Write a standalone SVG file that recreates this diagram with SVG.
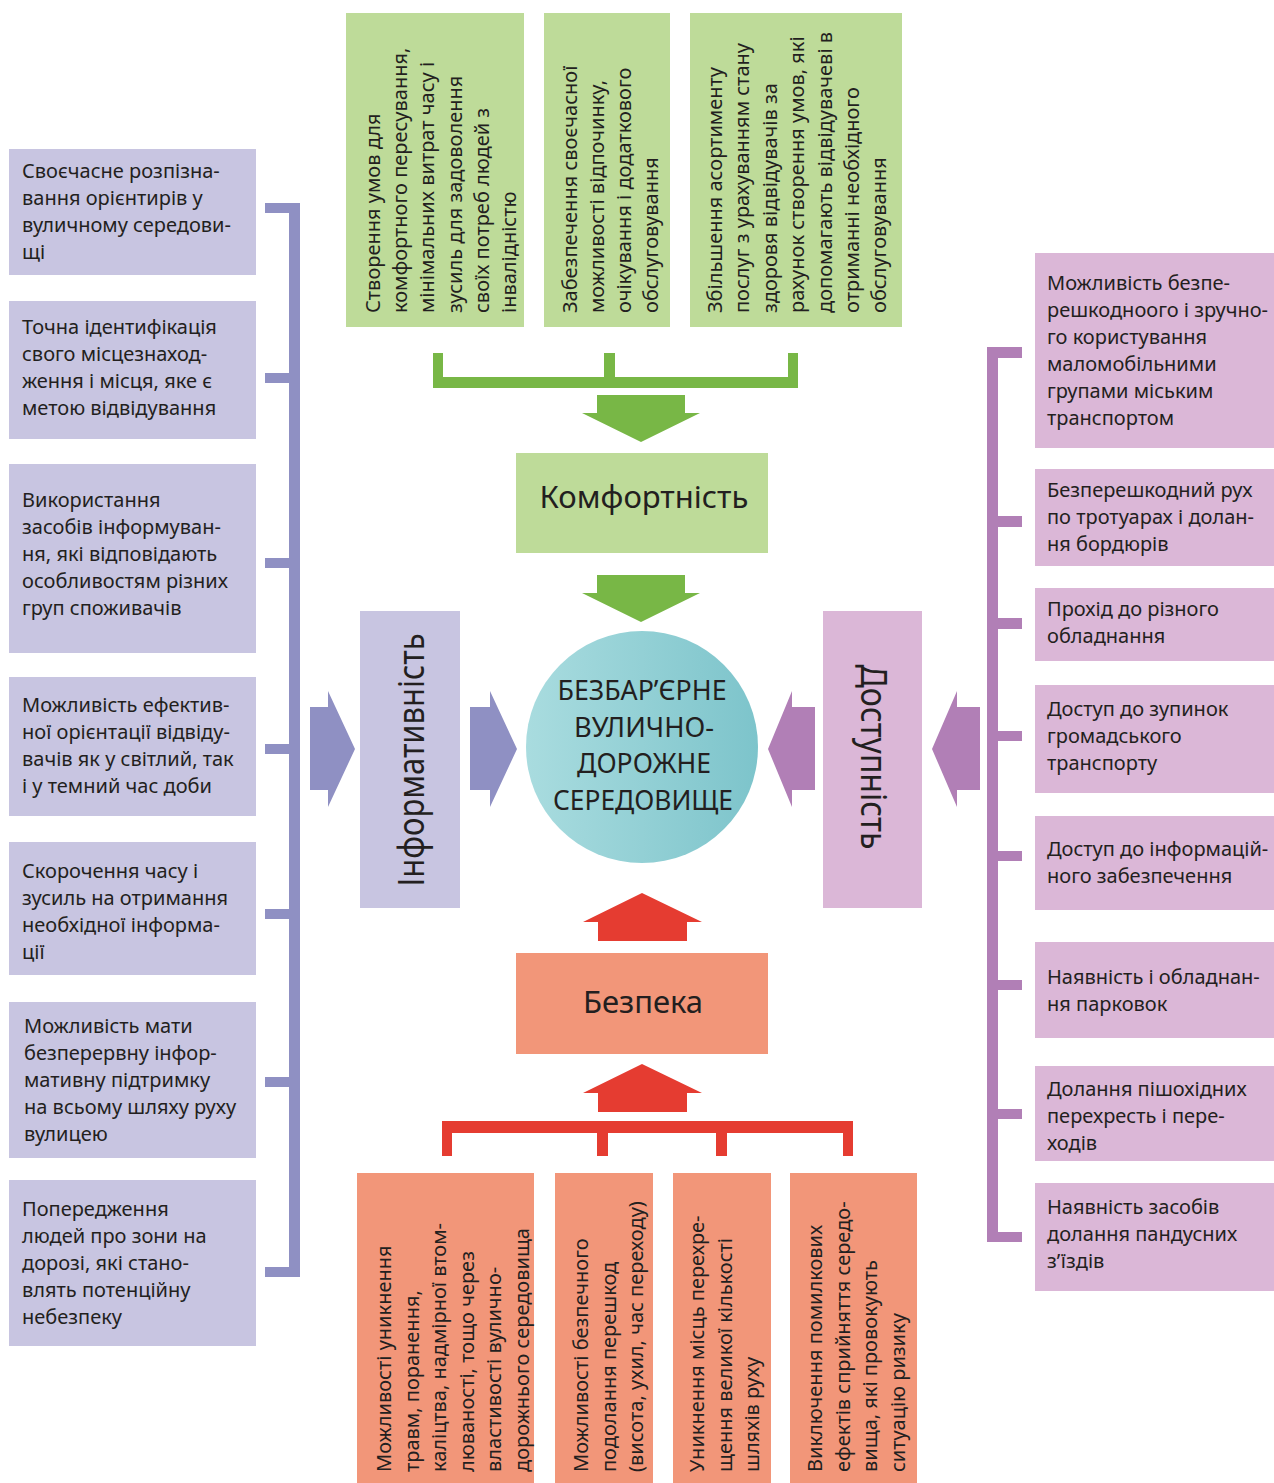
<svg xmlns="http://www.w3.org/2000/svg" width="1274" height="1483" viewBox="0 0 1274 1483">
<defs>
<style>
text { font-family: "Noto Sans", "Open Sans", "DejaVu Sans", sans-serif; fill: #231f20; }
.t { font-size: 20px; }
.big { font-size: 31px; }
.huge { font-size: 36px; }
.circ { font-size: 27px; }
.gbox { fill: #bedb99; }
.gdark { fill: #78b746; }
.rbox { fill: #f29679; }
.rdark { fill: #e53c31; }
.bbox { fill: #c8c5e1; }
.bdark { fill: #8f90c3; }
.pbox { fill: #dbb7d7; }
.pdark { fill: #b17fb6; }
</style>
<linearGradient id="circGrad" x1="0" y1="0" x2="1" y2="0">
<stop offset="0" stop-color="#a9dcdf"/>
<stop offset="1" stop-color="#7dc4cb"/>
</linearGradient>
</defs>
<rect x="0" y="0" width="1274" height="1483" fill="#ffffff"/>

<!-- connectors -->
<g id="connectors">
  <!-- green bracket -->
  <rect class="gdark" x="433" y="353" width="10" height="35"/>
  <rect class="gdark" x="604" y="353" width="11" height="35"/>
  <rect class="gdark" x="788" y="353" width="10" height="35"/>
  <rect class="gdark" x="433" y="377" width="365" height="11"/>
  <polygon class="gdark" points="597,395 685,395 685,413 700,413 641,442 582,413 597,413"/>
  <polygon class="gdark" points="597,575 685,575 685,593 700,593 641,622 582,593 597,593"/>
  <!-- red bracket -->
  <rect class="rdark" x="442" y="1121" width="411" height="12"/>
  <rect class="rdark" x="442" y="1121" width="10" height="35"/>
  <rect class="rdark" x="597" y="1121" width="11" height="35"/>
  <rect class="rdark" x="716" y="1121" width="11" height="35"/>
  <rect class="rdark" x="843" y="1121" width="10" height="35"/>
  <polygon class="rdark" points="642,1064 702,1093 687,1093 687,1112 598,1112 598,1093 583,1093"/>
  <polygon class="rdark" points="642,893 702,922 687,922 687,941 598,941 598,922 583,922"/>
  <!-- blue bracket -->
  <rect class="bdark" x="289" y="203" width="11" height="1074"/>
  <rect class="bdark" x="265" y="203" width="35" height="10"/>
  <rect class="bdark" x="265" y="373" width="35" height="10"/>
  <rect class="bdark" x="265" y="558" width="35" height="10"/>
  <rect class="bdark" x="265" y="744" width="35" height="10"/>
  <rect class="bdark" x="265" y="909" width="35" height="10"/>
  <rect class="bdark" x="265" y="1077" width="35" height="10"/>
  <rect class="bdark" x="265" y="1267" width="35" height="10"/>
  <polygon class="bdark" points="310,707 328,707 328,691 355,749 328,807 328,790 310,790"/>
  <polygon class="bdark" points="470,707 490,707 490,691 517,749 490,807 490,790 470,790"/>
  <!-- purple bracket -->
  <rect class="pdark" x="987" y="347" width="11" height="895"/>
  <rect class="pdark" x="987" y="347" width="35" height="11"/>
  <rect class="pdark" x="987" y="516" width="35" height="11"/>
  <rect class="pdark" x="987" y="618" width="35" height="11"/>
  <rect class="pdark" x="987" y="731" width="35" height="10"/>
  <rect class="pdark" x="987" y="851" width="35" height="10"/>
  <rect class="pdark" x="987" y="980" width="35" height="10"/>
  <rect class="pdark" x="987" y="1109" width="35" height="10"/>
  <rect class="pdark" x="987" y="1232" width="35" height="10"/>
  <polygon class="pdark" points="768,749 792,691 792,707 815,707 815,790 792,790 792,807"/>
  <polygon class="pdark" points="932,749 957,691 957,707 980,707 980,790 957,790 957,807"/>
</g>

<!-- center -->
<g id="center">
  <circle cx="642" cy="747" r="116" fill="url(#circGrad)"/>
  <text class="circ" x="642" y="700" text-anchor="middle" textLength="169" lengthAdjust="spacingAndGlyphs">БЕЗБАР’ЄРНЕ</text>
  <text class="circ" x="644" y="737" text-anchor="middle" textLength="140" lengthAdjust="spacingAndGlyphs">ВУЛИЧНО-</text>
  <text class="circ" x="644" y="773" text-anchor="middle" textLength="134" lengthAdjust="spacingAndGlyphs">ДОРОЖНЕ</text>
  <text class="circ" x="643" y="810" text-anchor="middle" textLength="180" lengthAdjust="spacingAndGlyphs">СЕРЕДОВИЩЕ</text>
</g>

<g id="komfort">
  <rect class="gbox" x="516" y="453" width="252" height="100"/>
  <text class="big" x="644" y="508" text-anchor="middle">Комфортність</text>
</g>
<g id="bezpeka">
  <rect class="rbox" x="516" y="953" width="252" height="101"/>
  <text class="big" x="643" y="1013" text-anchor="middle">Безпека</text>
</g>
<g id="inform">
  <rect class="bbox" x="360" y="611" width="100" height="297"/>
  <text class="huge" transform="translate(424,760) rotate(-90)" text-anchor="middle" textLength="253" lengthAdjust="spacingAndGlyphs">Інформативність</text>
</g>
<g id="dostup">
  <rect class="pbox" x="823" y="611" width="99" height="297"/>
  <text class="huge" transform="translate(861,757) rotate(90)" text-anchor="middle" textLength="185" lengthAdjust="spacingAndGlyphs">Доступність</text>
</g>

<!-- top green boxes -->
<g id="top1">
  <rect class="gbox" x="346" y="13" width="178" height="314"/>
  <g transform="translate(380,313) rotate(-90)">
    <text class="t" x="0" y="0">Створення умов для</text>
    <text class="t" x="0" y="27.2">комфортного пересування,</text>
    <text class="t" x="0" y="54.4">мінімальних витрат часу і</text>
    <text class="t" x="0" y="81.6">зусиль для задоволення</text>
    <text class="t" x="0" y="108.8">своїх потреб людей з</text>
    <text class="t" x="0" y="136">інвалідністю</text>
  </g>
</g>
<g id="top2">
  <rect class="gbox" x="544" y="13" width="126" height="314"/>
  <g transform="translate(577,313) rotate(-90)">
    <text class="t" x="0" y="0">Забезпечення своєчасної</text>
    <text class="t" x="0" y="27">можливості відпочинку,</text>
    <text class="t" x="0" y="54">очікування і додаткового</text>
    <text class="t" x="0" y="81">обслуговування</text>
  </g>
</g>
<g id="top3">
  <rect class="gbox" x="690" y="13" width="212" height="314"/>
  <g transform="translate(722,313) rotate(-90)">
    <text class="t" x="0" y="0">Збільшення асортименту</text>
    <text class="t" x="0" y="27.4">послуг з урахуванням стану</text>
    <text class="t" x="0" y="54.8">здоровя відвідувачів за</text>
    <text class="t" x="0" y="82.2">рахунок створення умов, які</text>
    <text class="t" x="0" y="109.6">допомагають відвідувачеві в</text>
    <text class="t" x="0" y="137">отриманні необхідного</text>
    <text class="t" x="0" y="164.4">обслуговування</text>
  </g>
</g>

<!-- bottom red boxes -->
<g id="bot1">
  <rect class="rbox" x="357" y="1173" width="177" height="310"/>
  <g transform="translate(391,1472) rotate(-90)">
    <text class="t" x="0" y="0">Можливості уникнення</text>
    <text class="t" x="0" y="27.6">травм, поранення,</text>
    <text class="t" x="0" y="55.2">каліцтва, надмірної втом-</text>
    <text class="t" x="0" y="82.8">люваності, тощо через</text>
    <text class="t" x="0" y="110.4">властивості вулично-</text>
    <text class="t" x="0" y="138">дорожнього середовища</text>
  </g>
</g>
<g id="bot2">
  <rect class="rbox" x="555" y="1173" width="98" height="310"/>
  <g transform="translate(588,1472) rotate(-90)">
    <text class="t" x="0" y="0">Можливості безпечного</text>
    <text class="t" x="0" y="27.5">подолання перешкод</text>
    <text class="t" x="0" y="55">(висота, ухил, час переходу)</text>
  </g>
</g>
<g id="bot3">
  <rect class="rbox" x="673" y="1173" width="98" height="310"/>
  <g transform="translate(704,1472) rotate(-90)">
    <text class="t" x="0" y="0">Уникнення місць перехре-</text>
    <text class="t" x="0" y="27.5">щення великої кількості</text>
    <text class="t" x="0" y="55">шляхів руху</text>
  </g>
</g>
<g id="bot4">
  <rect class="rbox" x="790" y="1173" width="127" height="310"/>
  <g transform="translate(822,1472) rotate(-90)">
    <text class="t" x="0" y="0">Виключення помилкових</text>
    <text class="t" x="0" y="27.5">ефектів сприйняття середо-</text>
    <text class="t" x="0" y="55">вища, які провокують</text>
    <text class="t" x="0" y="82.5">ситуацію ризику</text>
  </g>
</g>

<!-- left boxes -->
<g id="left1">
  <rect class="bbox" x="9" y="149" width="247" height="126"/>
  <text class="t" x="22" y="178">Своєчасне розпізна-</text>
  <text class="t" x="22" y="205">вання орієнтирів у</text>
  <text class="t" x="22" y="232">вуличному середови-</text>
  <text class="t" x="22" y="259">щі</text>
</g>
<g id="left2">
  <rect class="bbox" x="9" y="301" width="247" height="138"/>
  <text class="t" x="22" y="334">Точна ідентифікація</text>
  <text class="t" x="22" y="361">свого місцезнаход-</text>
  <text class="t" x="22" y="388">ження і місця, яке є</text>
  <text class="t" x="22" y="415">метою відвідування</text>
</g>
<g id="left3">
  <rect class="bbox" x="9" y="464" width="247" height="189"/>
  <text class="t" x="22" y="507">Використання</text>
  <text class="t" x="22" y="534">засобів інформуван-</text>
  <text class="t" x="22" y="561">ня, які відповідають</text>
  <text class="t" x="22" y="588">особливостям різних</text>
  <text class="t" x="22" y="615">груп споживачів</text>
</g>
<g id="left4">
  <rect class="bbox" x="9" y="677" width="247" height="139"/>
  <text class="t" x="22" y="712">Можливість ефектив-</text>
  <text class="t" x="22" y="739">ної орієнтації відвіду-</text>
  <text class="t" x="22" y="766">вачів як у світлий, так</text>
  <text class="t" x="22" y="793">і у темний час доби</text>
</g>
<g id="left5">
  <rect class="bbox" x="9" y="842" width="247" height="133"/>
  <text class="t" x="22" y="878">Скорочення часу і</text>
  <text class="t" x="22" y="905">зусиль на отримання</text>
  <text class="t" x="22" y="932">необхідної інформа-</text>
  <text class="t" x="22" y="959">ції</text>
</g>
<g id="left6">
  <rect class="bbox" x="9" y="1002" width="247" height="156"/>
  <text class="t" x="24" y="1033">Можливість мати</text>
  <text class="t" x="24" y="1060">безперервну інфор-</text>
  <text class="t" x="24" y="1087">мативну підтримку</text>
  <text class="t" x="24" y="1114">на всьому шляху руху</text>
  <text class="t" x="24" y="1141">вулицею</text>
</g>
<g id="left7">
  <rect class="bbox" x="9" y="1180" width="247" height="166"/>
  <text class="t" x="22" y="1216">Попередження</text>
  <text class="t" x="22" y="1243">людей про зони на</text>
  <text class="t" x="22" y="1270">дорозі, які стано-</text>
  <text class="t" x="22" y="1297">влять потенційну</text>
  <text class="t" x="22" y="1324">небезпеку</text>
</g>

<!-- right boxes -->
<g id="right1">
  <rect class="pbox" x="1035" y="253" width="239" height="195"/>
  <text class="t" x="1047" y="290">Можливість безпе-</text>
  <text class="t" x="1047" y="317">решкодноого і зручно-</text>
  <text class="t" x="1047" y="344">го користування</text>
  <text class="t" x="1047" y="371">маломобільними</text>
  <text class="t" x="1047" y="398">групами міським</text>
  <text class="t" x="1047" y="425">транспортом</text>
</g>
<g id="right2">
  <rect class="pbox" x="1035" y="469" width="239" height="97"/>
  <text class="t" x="1047" y="497">Безперешкодний рух</text>
  <text class="t" x="1047" y="524">по тротуарах і долан-</text>
  <text class="t" x="1047" y="551">ня бордюрів</text>
</g>
<g id="right3">
  <rect class="pbox" x="1035" y="588" width="239" height="73"/>
  <text class="t" x="1047" y="616">Прохід до різного</text>
  <text class="t" x="1047" y="643">обладнання</text>
</g>
<g id="right4">
  <rect class="pbox" x="1035" y="685" width="239" height="108"/>
  <text class="t" x="1047" y="716">Доступ до зупинок</text>
  <text class="t" x="1047" y="743">громадського</text>
  <text class="t" x="1047" y="770">транспорту</text>
</g>
<g id="right5">
  <rect class="pbox" x="1035" y="816" width="239" height="94"/>
  <text class="t" x="1047" y="856">Доступ до інформацій-</text>
  <text class="t" x="1047" y="883">ного забезпечення</text>
</g>
<g id="right6">
  <rect class="pbox" x="1035" y="942" width="239" height="96"/>
  <text class="t" x="1047" y="984">Наявність і обладнан-</text>
  <text class="t" x="1047" y="1011">ня парковок</text>
</g>
<g id="right7">
  <rect class="pbox" x="1035" y="1066" width="239" height="95"/>
  <text class="t" x="1047" y="1096">Долання пішохідних</text>
  <text class="t" x="1047" y="1123">перехресть і пере-</text>
  <text class="t" x="1047" y="1150">ходів</text>
</g>
<g id="right8">
  <rect class="pbox" x="1035" y="1183" width="239" height="108"/>
  <text class="t" x="1047" y="1214">Наявність засобів</text>
  <text class="t" x="1047" y="1241">долання пандусних</text>
  <text class="t" x="1047" y="1268">з’їздів</text>
</g>
</svg>
